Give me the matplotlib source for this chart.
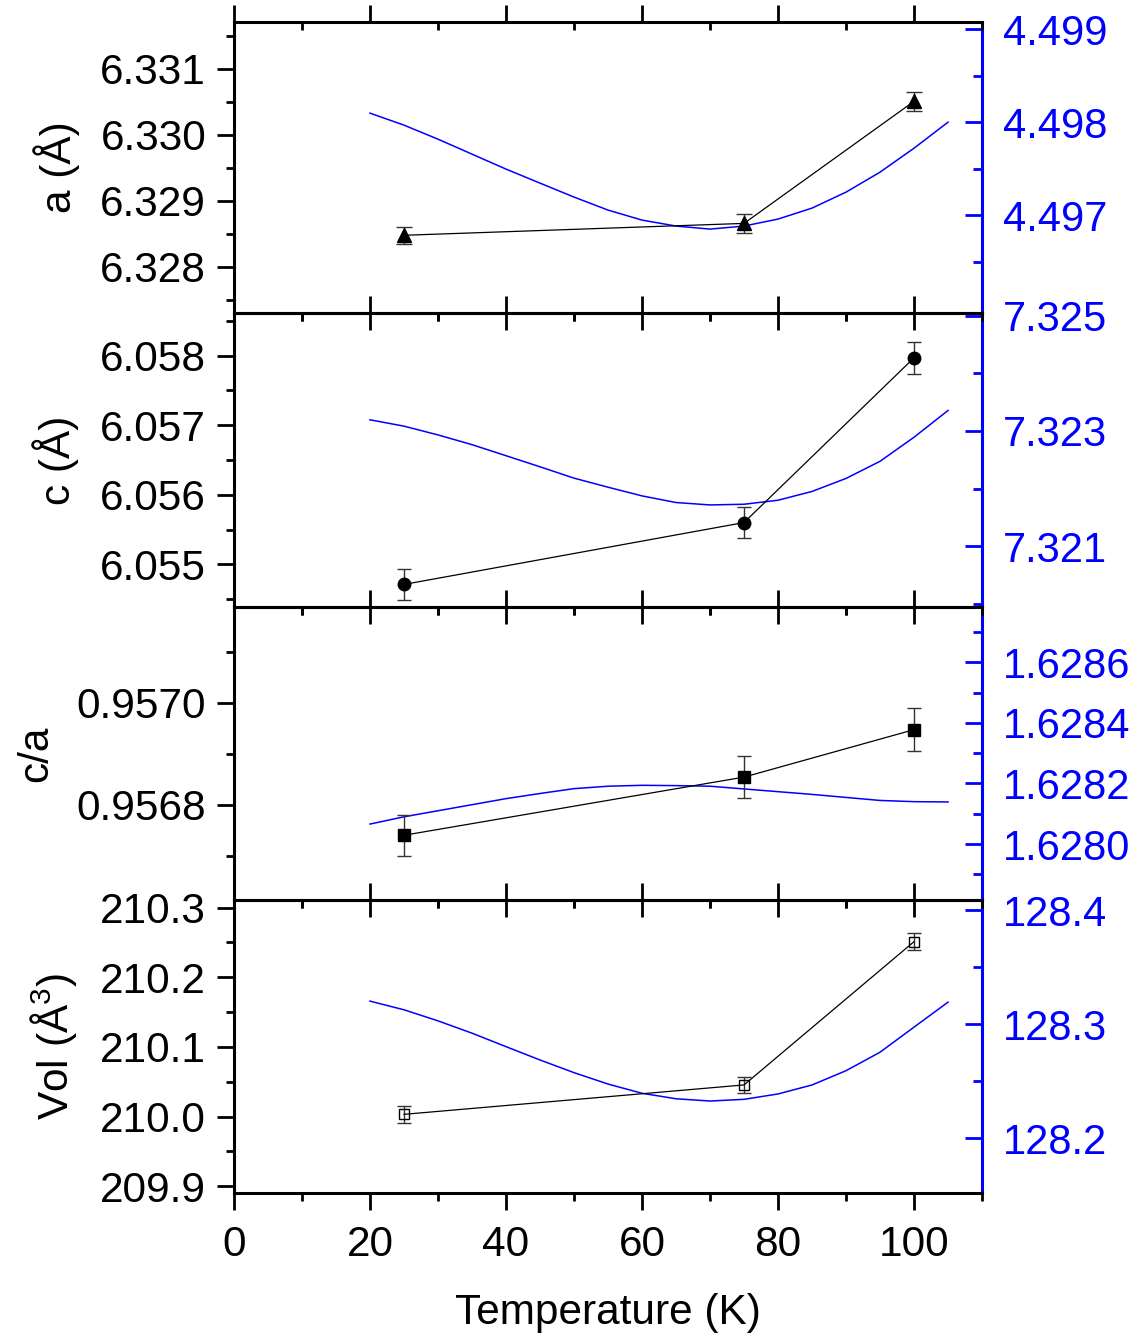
import matplotlib
matplotlib.use('Agg')
import matplotlib.pyplot as plt
from matplotlib.ticker import FixedLocator, MultipleLocator, FormatStrFormatter

plt.rcParams['font.family'] = ['Liberation Sans', 'DejaVu Sans']
plt.rcParams['mathtext.default'] = 'regular'
plt.rcParams['font.size'] = 30

# measured points (temperature in K)
temps = [25, 75, 100]
a_vals = [6.32848, 6.32866, 6.33051]
a_err = [0.00013, 0.00014, 0.00014]
c_vals = [6.05471, 6.05560, 6.05797]
c_err = [0.00022, 0.00022, 0.00023]
ca_vals = [0.956740, 0.956854, 0.956947]
ca_err = [0.000040, 0.000041, 0.000042]
vol_vals = [210.0033, 210.0455, 210.2512]
vol_err = [0.012, 0.012, 0.012]

# calculated curves (right axes, blue)
calc_T = [20, 25, 30, 35, 40, 45, 50, 55, 60, 65, 70, 75, 80, 85, 90, 95, 100, 105]
calc_a = [4.498097, 4.497968, 4.497817, 4.497656, 4.497495, 4.497344, 4.497194, 4.497054, 4.496946,
          4.496882, 4.496849, 4.496882, 4.496957, 4.497075, 4.497247, 4.497462, 4.497720, 4.498000]
calc_c = [7.323192, 7.323082, 7.322930, 7.322761, 7.322569, 7.322377, 7.322180, 7.322023, 7.321872,
          7.321757, 7.321715, 7.321727, 7.321797, 7.321949, 7.322175, 7.322472, 7.322890, 7.323354]
calc_ca = [1.628066, 1.628090, 1.628110, 1.628130, 1.628150, 1.628167, 1.628183, 1.628191, 1.628194,
           1.628193, 1.628191, 1.628182, 1.628173, 1.628164, 1.628154, 1.628144, 1.628140, 1.628139]
calc_vol = [128.3202, 128.3126, 128.3029, 128.2921, 128.2803, 128.2686, 128.2575, 128.2475, 128.2394,
            128.2346, 128.2326, 128.2341, 128.2388, 128.2467, 128.2592, 128.2754, 128.2974, 128.3193]

# left label, left data, right data, limits, ticks, formats
panels = [
    dict(label='a (Å)', y=a_vals, err=a_err, calc=calc_a, marker='^', ms=10, mfc='black', cap=6,
         lim=(6.327298, 6.331717), rlim=(4.495943, 4.499082),
         major=[6.328, 6.329, 6.330, 6.331], minor=[6.3275, 6.3285, 6.3295, 6.3305, 6.3315], fmt='%.3f',
         rmajor=[4.497, 4.498, 4.499], rminor=[4.4965, 4.4975, 4.4985], rfmt='%.3f'),
    dict(label='c (Å)', y=c_vals, err=c_err, calc=calc_c, marker='o', ms=9, mfc='black', cap=5,
         lim=(6.05439, 6.05861), rlim=(7.31995, 7.32504),
         major=[6.055, 6.056, 6.057, 6.058], minor=[6.0545, 6.0555, 6.0565, 6.0575, 6.0585], fmt='%.3f',
         rmajor=[7.321, 7.323, 7.325], rminor=[7.320, 7.322, 7.324], rfmt='%.3f'),
    dict(label='c/a', y=ca_vals, err=ca_err, calc=calc_ca, marker='s', ms=8, mfc='black', cap=5,
         lim=(0.956613, 0.957188), rlim=(1.627815, 1.628784),
         major=[0.9568, 0.9570], minor=[0.9567, 0.9569, 0.9571], fmt='%.4f',
         rmajor=[1.6280, 1.6282, 1.6284, 1.6286], rminor=[1.6279, 1.6281, 1.6283, 1.6285, 1.6287], rfmt='%.4f'),
    dict(label='Vol (Å$^3$)', y=vol_vals, err=vol_err, calc=calc_vol, marker='s', ms=7, mfc='none', cap=5,
         lim=(209.8899, 210.3109), rlim=(128.1517, 128.4088),
         major=[209.9, 210.0, 210.1, 210.2, 210.3], minor=[209.95, 210.05, 210.15, 210.25], fmt='%.1f',
         rmajor=[128.2, 128.3, 128.4], rminor=[128.25, 128.35], rfmt='%.1f'),
]

fig = plt.figure(figsize=(11.37, 13.36), dpi=100)
left, width = 0.2058, 0.6579
bottoms = [0.7655, 0.5459, 0.3263, 0.1068]
heights = [0.2183, 0.2196, 0.2196, 0.2195]

for i, p in enumerate(panels):
    ax = fig.add_axes([left, bottoms[i], width, heights[i]])
    ax2 = ax.twinx()
    ax.set_zorder(ax2.get_zorder() + 1)
    ax.patch.set_visible(False)

    ax2.plot(calc_T, p['calc'], color='blue', lw=1.1)
    ax.errorbar(temps, p['y'], yerr=p['err'], color='black', lw=0.9, marker=p['marker'],
                ms=p['ms'], mfc=p['mfc'], mec='black', mew=1.0, ecolor='#333333',
                elinewidth=1.0, capsize=p['cap'], capthick=1.0)

    ax.set_xlim(0, 110)
    ax.set_ylim(*p['lim'])
    ax2.set_ylim(*p['rlim'])
    ax.xaxis.set_major_locator(MultipleLocator(20))
    ax.xaxis.set_minor_locator(MultipleLocator(10))
    ax.yaxis.set_major_locator(FixedLocator(p['major']))
    ax.yaxis.set_minor_locator(FixedLocator(p['minor']))
    ax.yaxis.set_major_formatter(FormatStrFormatter(p['fmt']))
    ax2.yaxis.set_major_locator(FixedLocator(p['rmajor']))
    ax2.yaxis.set_minor_locator(FixedLocator(p['rminor']))
    ax2.yaxis.set_major_formatter(FormatStrFormatter(p['rfmt']))

    for s in ['left', 'top', 'bottom']:
        ax.spines[s].set_linewidth(2.2)
    ax.spines['right'].set_visible(False)
    for s in ['left', 'top', 'bottom']:
        ax2.spines[s].set_visible(False)
    ax2.spines['right'].set_color('blue')
    ax2.spines['right'].set_linewidth(2.2)

    ax.tick_params(axis='y', which='major', direction='out', length=12, width=2, pad=8, labelsize=30.5)
    ax.tick_params(axis='y', which='minor', direction='out', length=6, width=2)
    ax.tick_params(axis='x', which='both', top=True, bottom=True, width=2)
    ax.tick_params(axis='x', which='major', length=12)
    ax.tick_params(axis='x', which='minor', length=6)
    # Origin style: top ticks inward, bottom ticks outward
    for t in ax.xaxis.get_major_ticks() + ax.xaxis.get_minor_ticks():
        t.tick2line.set_marker(3)
    ax.tick_params(axis='x', which='major', labelsize=30.5, pad=11,
                   labelbottom=(i == len(panels) - 1))

    ax2.tick_params(axis='y', which='major', direction='in', length=12, width=2, pad=15,
                    colors='blue', labelcolor='blue', labelsize=30)
    ax2.tick_params(axis='y', which='minor', direction='in', length=6.5, width=2, colors='blue')

    ax.set_ylabel(p['label'], fontsize=30.5, labelpad=15)
    if i == len(panels) - 1:
        ax.set_xlabel('Temperature (K)', fontsize=30.5, labelpad=20)

fig.savefig('out.png', dpi=100)
